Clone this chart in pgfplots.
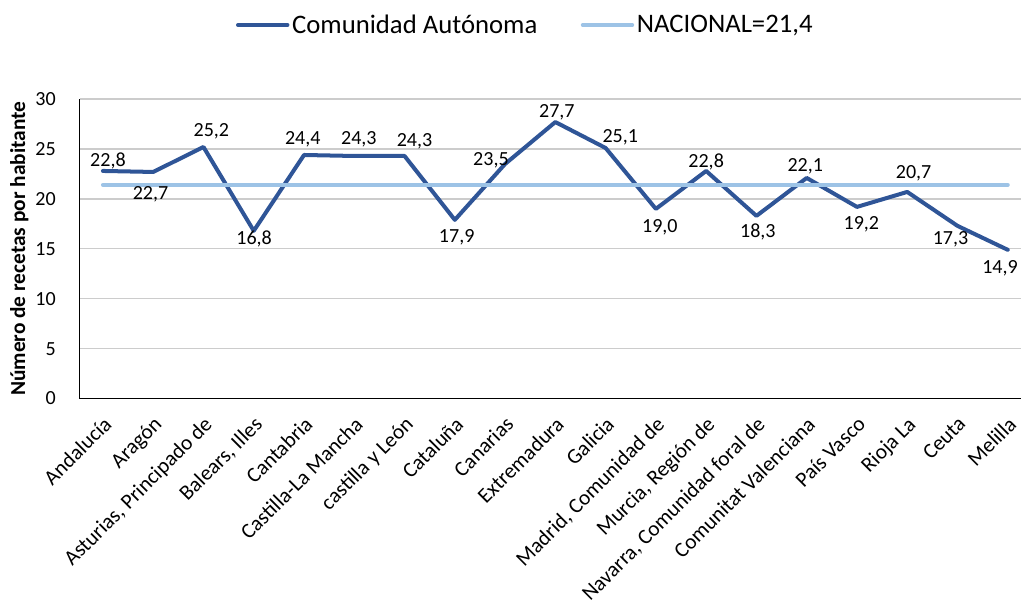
\documentclass[border=0pt]{standalone}
\usepackage{pgfplots}
\pgfplotsset{compat=1.18}
\usepackage{pgfplotstable}
\usepackage{fontspec}
\setmainfont{Carlito}
\definecolor{darkblue}{HTML}{2F5597}
\definecolor{lightblue}{HTML}{9DC3E6}
\pgfplotstableread{
x y dx dy
0 22.8 3.75 8.6
1 22.7 -2 -15.6
2 25.2 5.9 12.75
3 16.8 0.3 -5.25
4 24.4 -0.9 12.75
5 24.3 3.4 13.5
6 24.3 7.5 12.2
7 17.9 1.4 -12
8 23.5 -10.6 3.75
9 27.7 1.1 8.25
10 25.1 11 9
11 19.0 3 -13
12 22.8 0 7.5
13 18.3 1.1 -11.25
14 22.1 -1.1 9.75
15 19.2 3.3 -12
16 20.7 4.8 15
17 17.3 -5.25 -8.8
18 14.9 -5.8 -12.6
}\datatable
\begin{document}
\begin{tikzpicture}
\begin{axis}[
 scale only axis, width=705pt, height=224.25pt,
 xmin=-0.46, xmax=18.27, ymin=0, ymax=30,
 ytick={0,5,...,30},
 xtick={0,...,18},
 xticklabels={Andalucía, Aragón, {Asturias, Principado de}, {Balears, Illes}, Cantabria, Castilla-La Mancha, castilla y León, Cataluña, Canarias, Extremadura, Galicia, {Madrid, Comunidad de}, {Murcia, Región de}, {Navarra, Comunidad foral de}, Comunitat Valenciana, País Vasco, Rioja La, Ceuta, Melilla},
 axis x line*=bottom, axis y line*=left,
 axis line style={black, line width=1pt},
 major tick length=0pt,
 ymajorgrids, grid style={color=black!20, line width=1pt},
 /pgf/number format/assume math mode=true,
 yticklabel style={font=\fontsize{15}{18}\selectfont, xshift=-14.5pt},
 xticklabel style={font=\fontsize{16}{19}\selectfont, xshift=-0.5pt, yshift=-12.3pt, rotate=45, anchor=north east, inner sep=0pt},
 ylabel={Número de recetas por habitante},
 ylabel style={font=\bfseries\fontsize{16}{19}\selectfont, at={(axis description cs:0,0.5)}, anchor=center, yshift=45.4pt, inner xsep=0pt, inner ysep=7.5pt},
 legend columns=2,
 legend style={font=\fontsize{20}{24}\selectfont, draw=none, at={(0.4735,1)}, anchor=center, yshift=55.5pt, inner ysep=9pt,
   /tikz/every even column/.append style={column sep=30.5pt}},
 legend image code/.code={\draw[#1, line cap=round] (0pt,0pt) -- (37pt,0pt);},
]
\addplot[darkblue, line width=3pt, line join=round, line cap=round, mark=none,
  nodes near coords={\pgfmathprintnumber[fixed,fixed zerofill,precision=1,use comma]{\pgfplotspointmeta}},
  visualization depends on={\thisrow{dx}\as\ldx},
  visualization depends on={\thisrow{dy}\as\ldy},
  every node near coord/.append style={anchor=center, inner sep=0pt, text depth=0pt, xshift=\ldx pt, yshift=\ldy pt, font=\fontsize{15}{18}\selectfont, text=black},
] table[x=x,y=y] {\datatable};
\addlegendentry{Comunidad Autónoma}
\addplot[lightblue, line width=3pt, line cap=round, mark=none] coordinates {(0,21.4) (18,21.4)};
\addlegendentry{NACIONAL=21,4}
\end{axis}
\end{tikzpicture}
\end{document}
